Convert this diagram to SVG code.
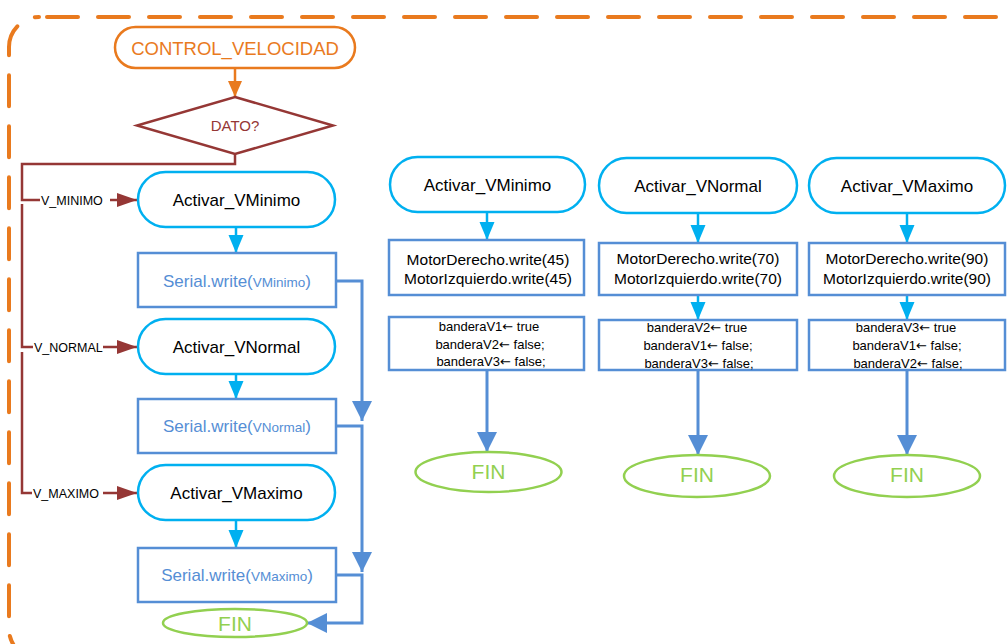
<svg xmlns="http://www.w3.org/2000/svg" width="1008" height="644" viewBox="0 0 1008 644">
<style>
text{font-family:"Liberation Sans",Arial,sans-serif;}
.term{fill:#fff;stroke:#00B0F0;stroke-width:2.5;}
.box{fill:#fff;stroke:#558ED5;stroke-width:2.5;}
.fin{fill:#fff;stroke:#92D050;stroke-width:2.5;}
.t17{font-size:17px;fill:#000;text-anchor:middle;}
.t15{font-size:15.5px;fill:#000;text-anchor:middle;}
.t13{font-size:13px;fill:#000;text-anchor:middle;}
.ar{font-family:"DejaVu Sans",sans-serif;font-size:13px;}
.ser{font-size:17px;fill:#558ED5;text-anchor:middle;}
.fint{font-size:21px;fill:#92D050;text-anchor:middle;}
.lbl{font-size:12.5px;fill:#000;}
.br{fill:none;stroke:#953735;stroke-width:2.5;}
.lb{fill:none;stroke:#00B0F0;stroke-width:2.5;}
.sb{fill:none;stroke:#558ED5;stroke-width:3;}
.or{fill:none;stroke:#E97A1E;stroke-width:2.5;}
</style>
<defs>
<marker id="aOr" markerUnits="userSpaceOnUse" markerWidth="16" markerHeight="16" refX="16" refY="7" orient="auto"><path d="M0,0 L16,7 L0,14 z" fill="#E97A1E"/></marker>
<marker id="aBr" markerUnits="userSpaceOnUse" markerWidth="20" markerHeight="14" refX="20" refY="7" orient="auto"><path d="M0,0 L20,7 L0,14 z" fill="#953735"/></marker>
<marker id="aLb" markerUnits="userSpaceOnUse" markerWidth="18" markerHeight="16" refX="18" refY="7.5" orient="auto"><path d="M0,0 L18,7.5 L0,15 z" fill="#00B0F0"/></marker>
<marker id="aSb" markerUnits="userSpaceOnUse" markerWidth="20" markerHeight="20" refX="20" refY="10" orient="auto"><path d="M0,0 L20,10 L0,20 z" fill="#558ED5"/></marker>
</defs>

<rect id="frame" x="9" y="17" width="1022" height="642" rx="30" fill="none" stroke="#E97A1E" stroke-width="4" stroke-linecap="round" stroke-dasharray="31 20" stroke-dashoffset="-8"/>

<g id="connectors">
<path class="or" d="M235,68 V97" marker-end="url(#aOr)"/>
<path class="br" d="M235,154 V164 H22 V200 H40"/>
<path class="br" d="M110,200 H137" marker-end="url(#aBr)"/>
<path class="br" d="M22,204 V347 H33"/>
<path class="br" d="M103,347 H137" marker-end="url(#aBr)"/>
<path class="br" d="M22,352 V493 H32"/>
<path class="br" d="M103,493 H137" marker-end="url(#aBr)"/>
<path class="lb" d="M236,227 V253" marker-end="url(#aLb)"/>
<path class="lb" d="M236,374 V399" marker-end="url(#aLb)"/>
<path class="lb" d="M236,520 V548" marker-end="url(#aLb)"/>
<path class="sb" d="M336,281 H362 V421" marker-end="url(#aSb)"/>
<path class="sb" d="M336,426 H362 V572" marker-end="url(#aSb)"/>
<path class="sb" d="M336,575 H362 V623 H307" marker-end="url(#aSb)"/>
<path class="lb" d="M487,212 V240" marker-end="url(#aLb)"/>
<path class="sb" d="M487,370 V452" marker-end="url(#aSb)"/>
<path class="lb" d="M698,213 V243" marker-end="url(#aLb)"/>
<path class="lb" d="M698,295 V320" marker-end="url(#aLb)"/>
<path class="sb" d="M698,370 V455" marker-end="url(#aSb)"/>
<path class="lb" d="M907,213 V243" marker-end="url(#aLb)"/>
<path class="lb" d="M907,295 V320" marker-end="url(#aLb)"/>
<path class="sb" d="M907,370 V455" marker-end="url(#aSb)"/>
<text class="lbl" x="41" y="204.5">V_MINIMO</text>
<text class="lbl" x="34" y="351.5">V_NORMAL</text>
<text class="lbl" x="33" y="497.5">V_MAXIMO</text>
</g>

<g id="start">
<rect x="115" y="27" width="240" height="41" rx="20.5" fill="#fff" stroke="#E97A1E" stroke-width="2.5"/>
<text x="235" y="54.5" font-size="18.5" fill="#E97A1E" text-anchor="middle">CONTROL_VELOCIDAD</text>
</g>

<g id="dato">
<polygon points="235,97 333,125.5 235,154 137,125.5" fill="#fff" stroke="#953735" stroke-width="2.5"/>
<text x="235" y="131" font-size="15" fill="#953735" text-anchor="middle">DATO?</text>
</g>

<g id="act_min_l">
<rect class="term" x="138" y="172" width="197" height="55" rx="27.5"/>
<text class="t17" x="236.5" y="206">Activar_VMinimo</text>
</g>
<g id="ser_min">
<rect class="box" x="138" y="253" width="198" height="54"/>
<text class="ser" x="237" y="287">Serial.write(<tspan font-size="13.5">VMinimo</tspan>)</text>
</g>
<g id="act_nor_l">
<rect class="term" x="138" y="319" width="197" height="55" rx="27.5"/>
<text class="t17" x="236.5" y="353">Activar_VNormal</text>
</g>
<g id="ser_nor">
<rect class="box" x="138" y="399" width="198" height="54"/>
<text class="ser" x="237" y="432">Serial.write(<tspan font-size="13.5">VNormal</tspan>)</text>
</g>
<g id="act_max_l">
<rect class="term" x="138" y="465" width="197" height="55" rx="27.5"/>
<text class="t17" x="236.5" y="499">Activar_VMaximo</text>
</g>
<g id="ser_max">
<rect class="box" x="138" y="548" width="198" height="54"/>
<text class="ser" x="237" y="581">Serial.write(<tspan font-size="13.5">VMaximo</tspan>)</text>
</g>
<g id="fin_l">
<ellipse class="fin" cx="235" cy="623" rx="72" ry="14"/>
<text class="fint" x="235" y="630.5">FIN</text>
</g>

<g id="act_min">
<rect class="term" x="390" y="157" width="195" height="55" rx="27.5"/>
<text class="t17" x="487.5" y="191">Activar_VMinimo</text>
</g>
<g id="motor_min">
<rect class="box" x="389" y="240" width="195" height="55"/>
<text class="t15" x="488" y="265">MotorDerecho.write(45)</text>
<text class="t15" x="488" y="284">MotorIzquierdo.write(45)</text>
</g>
<g id="band_min">
<rect class="box" x="389" y="317" width="195" height="53"/>
<text class="t13" x="489" y="330.5">banderaV1<tspan class="ar">←</tspan> true</text>
<text class="t13" x="490" y="348.5">banderaV2<tspan class="ar">←</tspan> false;</text>
<text class="t13" x="491" y="366">banderaV3<tspan class="ar">←</tspan> false;</text>
</g>
<g id="fin_min">
<ellipse class="fin" cx="488.5" cy="472" rx="73" ry="20"/>
<text class="fint" x="488.5" y="479">FIN</text>
</g>

<g id="act_nor">
<rect class="term" x="599" y="158" width="198" height="55" rx="27.5"/>
<text class="t17" x="698" y="192">Activar_VNormal</text>
</g>
<g id="motor_nor">
<rect class="box" x="599" y="243" width="198" height="52"/>
<text class="t15" x="698" y="264">MotorDerecho.write(70)</text>
<text class="t15" x="698" y="284">MotorIzquierdo.write(70)</text>
</g>
<g id="band_nor">
<rect class="box" x="599" y="320" width="198" height="50"/>
<text class="t13" x="697" y="331.5">banderaV2<tspan class="ar">←</tspan> true</text>
<text class="t13" x="698" y="349.5">banderaV1<tspan class="ar">←</tspan> false;</text>
<text class="t13" x="699" y="367.5">banderaV3<tspan class="ar">←</tspan> false;</text>
</g>
<g id="fin_nor">
<ellipse class="fin" cx="697" cy="476" rx="73" ry="21"/>
<text class="fint" x="697" y="482">FIN</text>
</g>

<g id="act_max">
<rect class="term" x="809" y="158" width="196" height="55" rx="27.5"/>
<text class="t17" x="907" y="192">Activar_VMaximo</text>
</g>
<g id="motor_max">
<rect class="box" x="809" y="243" width="196" height="52"/>
<text class="t15" x="907" y="264">MotorDerecho.write(90)</text>
<text class="t15" x="907" y="284">MotorIzquierdo.write(90)</text>
</g>
<g id="band_max">
<rect class="box" x="809" y="320" width="196" height="50"/>
<text class="t13" x="906" y="331.5">banderaV3<tspan class="ar">←</tspan> true</text>
<text class="t13" x="907" y="349.5">banderaV1<tspan class="ar">←</tspan> false;</text>
<text class="t13" x="908" y="367.5">banderaV2<tspan class="ar">←</tspan> false;</text>
</g>
<g id="fin_max">
<ellipse class="fin" cx="907" cy="476" rx="73" ry="21"/>
<text class="fint" x="907" y="482">FIN</text>
</g>
</svg>
